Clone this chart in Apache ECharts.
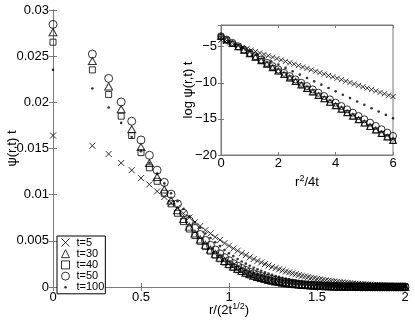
<!DOCTYPE html>
<html><head><meta charset="utf-8">
<script src="https://cdn.jsdelivr.net/npm/echarts@6/dist/echarts.min.js"></script>
<style>html,body{margin:0;padding:0;background:#fff}#c{width:415px;height:325px}</style>
</head><body><div id="c"></div>
<script>
// ---- data ----
const seriesNames = ['t=5', 't=30', 't=40', 't=50', 't=100'];
// log(psi(r,t) t) on the r^2/4t grid 0, 0.05, 0.10, ... 6.00
const logPsi_t5 = [
-4.11,-4.18,-4.24,-4.31,-4.37,-4.44,-4.50,-4.57,-4.63,-4.70,
-4.76,-4.83,-4.89,-4.96,-5.02,-5.09,-5.15,-5.22,-5.28,-5.35,
-5.41,-5.48,-5.54,-5.61,-5.67,-5.74,-5.80,-5.87,-5.93,-6.00,
-6.06,-6.13,-6.19,-6.26,-6.32,-6.39,-6.45,-6.52,-6.58,-6.65,
-6.71,-6.78,-6.84,-6.91,-6.97,-7.04,-7.10,-7.17,-7.23,-7.30,
-7.36,-7.43,-7.49,-7.56,-7.62,-7.69,-7.75,-7.82,-7.88,-7.95,
-8.01,-8.08,-8.14,-8.21,-8.27,-8.34,-8.40,-8.47,-8.53,-8.60,
-8.66,-8.73,-8.79,-8.86,-8.92,-8.99,-9.05,-9.12,-9.18,-9.25,
-9.31,-9.38,-9.44,-9.51,-9.57,-9.64,-9.70,-9.77,-9.83,-9.90,
-9.96,-10.03,-10.09,-10.16,-10.22,-10.29,-10.35,-10.42,-10.48,-10.55,
-10.61,-10.68,-10.74,-10.81,-10.87,-10.94,-11.00,-11.07,-11.13,-11.20,
-11.26,-11.33,-11.39,-11.46,-11.52,-11.59,-11.65,-11.72,-11.78,-11.85,
-11.91];
const logPsi_t30 = [
-3.59,-3.71,-3.83,-3.95,-4.07,-4.19,-4.31,-4.43,-4.55,-4.67,
-4.79,-4.91,-5.03,-5.15,-5.27,-5.39,-5.51,-5.63,-5.75,-5.87,
-5.99,-6.11,-6.23,-6.35,-6.47,-6.59,-6.71,-6.83,-6.95,-7.07,
-7.19,-7.31,-7.43,-7.55,-7.67,-7.79,-7.91,-8.03,-8.15,-8.27,
-8.39,-8.51,-8.63,-8.75,-8.87,-8.99,-9.11,-9.23,-9.35,-9.47,
-9.59,-9.71,-9.83,-9.95,-10.07,-10.19,-10.31,-10.43,-10.55,-10.67,
-10.79,-10.91,-11.03,-11.15,-11.27,-11.39,-11.51,-11.63,-11.75,-11.87,
-11.99,-12.11,-12.23,-12.35,-12.47,-12.59,-12.71,-12.83,-12.95,-13.07,
-13.19,-13.31,-13.43,-13.55,-13.67,-13.79,-13.91,-14.03,-14.15,-14.27,
-14.39,-14.51,-14.63,-14.75,-14.87,-14.99,-15.11,-15.23,-15.35,-15.47,
-15.59,-15.71,-15.83,-15.95,-16.07,-16.19,-16.31,-16.43,-16.55,-16.67,
-16.79,-16.91,-17.03,-17.15,-17.27,-17.39,-17.51,-17.63,-17.75,-17.87,
-17.99];
const logPsi_t40 = [
-3.63,-3.75,-3.87,-3.99,-4.11,-4.23,-4.35,-4.47,-4.59,-4.71,
-4.83,-4.95,-5.07,-5.19,-5.31,-5.43,-5.55,-5.67,-5.79,-5.91,
-6.03,-6.15,-6.27,-6.39,-6.51,-6.63,-6.75,-6.87,-6.99,-7.11,
-7.23,-7.35,-7.47,-7.59,-7.71,-7.83,-7.95,-8.07,-8.19,-8.31,
-8.43,-8.55,-8.67,-8.79,-8.91,-9.03,-9.15,-9.27,-9.39,-9.51,
-9.63,-9.75,-9.87,-9.99,-10.11,-10.23,-10.35,-10.47,-10.59,-10.71,
-10.83,-10.95,-11.07,-11.19,-11.31,-11.43,-11.55,-11.67,-11.79,-11.91,
-12.03,-12.15,-12.27,-12.39,-12.51,-12.63,-12.75,-12.87,-12.99,-13.11,
-13.23,-13.35,-13.47,-13.59,-13.71,-13.83,-13.95,-14.07,-14.19,-14.31,
-14.43,-14.55,-14.67,-14.79,-14.91,-15.03,-15.15,-15.27,-15.39,-15.51,
-15.63,-15.75,-15.87,-15.99,-16.11,-16.23,-16.35,-16.47,-16.59,-16.71,
-16.83,-16.95,-17.07,-17.19,-17.31,-17.43,-17.55,-17.67,-17.79,-17.91,
-18.03];
const logPsi_t50 = [
-3.56,-3.68,-3.79,-3.91,-4.02,-4.14,-4.25,-4.37,-4.48,-4.60,
-4.71,-4.83,-4.94,-5.06,-5.17,-5.29,-5.40,-5.52,-5.63,-5.75,
-5.86,-5.98,-6.09,-6.21,-6.32,-6.44,-6.55,-6.67,-6.78,-6.90,
-7.01,-7.13,-7.24,-7.36,-7.47,-7.59,-7.70,-7.82,-7.93,-8.05,
-8.16,-8.28,-8.39,-8.51,-8.62,-8.74,-8.85,-8.97,-9.08,-9.20,
-9.31,-9.43,-9.54,-9.66,-9.77,-9.89,-10.00,-10.12,-10.23,-10.35,
-10.46,-10.58,-10.69,-10.81,-10.92,-11.04,-11.15,-11.27,-11.38,-11.50,
-11.61,-11.73,-11.84,-11.96,-12.07,-12.19,-12.30,-12.42,-12.53,-12.65,
-12.76,-12.88,-12.99,-13.11,-13.22,-13.34,-13.45,-13.57,-13.68,-13.80,
-13.91,-14.03,-14.14,-14.26,-14.37,-14.49,-14.60,-14.72,-14.83,-14.95,
-15.06,-15.18,-15.29,-15.41,-15.52,-15.64,-15.75,-15.87,-15.98,-16.10,
-16.21,-16.33,-16.44,-16.56,-16.67,-16.79,-16.90,-17.02,-17.13,-17.25,
-17.36];
const logPsi_t100 = [
-3.75,-3.84,-3.94,-4.03,-4.12,-4.22,-4.31,-4.40,-4.49,-4.59,
-4.68,-4.77,-4.87,-4.96,-5.05,-5.15,-5.24,-5.33,-5.42,-5.52,
-5.61,-5.70,-5.80,-5.89,-5.98,-6.08,-6.17,-6.26,-6.35,-6.45,
-6.54,-6.63,-6.73,-6.82,-6.91,-7.01,-7.10,-7.19,-7.28,-7.38,
-7.47,-7.56,-7.66,-7.75,-7.84,-7.94,-8.03,-8.12,-8.21,-8.31,
-8.40,-8.49,-8.59,-8.68,-8.77,-8.87,-8.96,-9.05,-9.14,-9.24,
-9.33,-9.42,-9.52,-9.61,-9.70,-9.80,-9.89,-9.98,-10.07,-10.17,
-10.26,-10.35,-10.45,-10.54,-10.63,-10.73,-10.82,-10.91,-11.00,-11.10,
-11.19,-11.28,-11.38,-11.47,-11.56,-11.66,-11.75,-11.84,-11.93,-12.03,
-12.12,-12.21,-12.31,-12.40,-12.49,-12.59,-12.68,-12.77,-12.86,-12.96,
-13.05,-13.14,-13.24,-13.33,-13.42,-13.52,-13.61,-13.70,-13.79,-13.89,
-13.98,-14.07,-14.17,-14.26,-14.35,-14.45,-14.54,-14.63,-14.72,-14.82,
-14.91];
const gridStep = 0.05;          // spacing of r^2/4t grid
const insetEvery = [3, 4, 4, 4, 5]; // inset shows every n-th point

// ---- build ----
const logData = [logPsi_t5, logPsi_t30, logPsi_t40, logPsi_t50, logPsi_t100];
const uGrid = logPsi_t5.map((_, k) => Math.round(k * gridStep * 100) / 100);
const FONT = "'Liberation Sans', Arial, Helvetica, sans-serif";
const GRAY = '#7a7a7a';
const hollow = { color: 'transparent', borderColor: '#000', borderWidth: 1 };
const CROSS = 'path://M0,0L10,10M10,0L0,10';
const styles = [
  { symbol: CROSS, symbolSize: 6, itemStyle: hollow },
  { symbol: 'triangle', symbolSize: [8, 7], itemStyle: hollow },
  { symbol: 'rect', symbolSize: 6, itemStyle: hollow },
  { symbol: 'circle', symbolSize: 8, itemStyle: hollow },
  { symbol: 'circle', symbolSize: 2.6, itemStyle: { color: '#000' } }
];
const insetSizes = [5, [7, 6], 5, 7, 2.6];
const legendIcons = [CROSS, 'triangle', 'rect', 'circle',
  'path://M0,0M10,10M3.4,5a1.6,1.6 0 1,0 3.2,0a1.6,1.6 0 1,0 -3.2,0Z'];

const series = [];
logData.forEach((arr, i) => {
  const mainPts = [];
  arr.forEach((v, k) => { if (uGrid[k] <= 4 + 1e-9) mainPts.push([Math.sqrt(uGrid[k]), Math.exp(v)]); });
  series.push(Object.assign({
    type: 'scatter', name: seriesNames[i], xAxisIndex: 0, yAxisIndex: 0,
    data: mainPts, z: 3, silent: true
  }, styles[i]));
});
logData.forEach((arr, i) => {
  const insetPts = [];
  arr.forEach((v, k) => { if (k % insetEvery[i] === 0) insetPts.push([uGrid[k], v]); });
  series.push(Object.assign({
    type: 'scatter', name: seriesNames[i], xAxisIndex: 2, yAxisIndex: 2,
    data: insetPts, z: 6, silent: true
  }, styles[i], { symbolSize: insetSizes[i] }));
});

const tick = (len) => ({ show: true, inside: true, length: len, lineStyle: { color: GRAY, width: 1 } });
const line = { show: true, lineStyle: { color: GRAY, width: 1 } };
const lab = (m) => ({ color: '#000', fontSize: 13, fontFamily: FONT, margin: m });
const minus = (v) => String(v).replace('-', '\u2212');
const richSup = { rich: { a: { fontSize: 13, lineHeight: 16, color: '#000', fontFamily: FONT },
                          s: { fontSize: 9, verticalAlign: 'top', color: '#000', fontFamily: FONT } } };

const option = {
  animation: false,
  backgroundColor: '#fff',
  textStyle: { fontFamily: FONT },
  grid: [
    { left: 53, top: 10, width: 352, height: 277, show: false, containLabel: false, outerBoundsMode: 'none' },
    { left: 221, top: 25, width: 172, height: 130, show: true, backgroundColor: '#fff', borderColor: GRAY, borderWidth: 1, z: 4,
      containLabel: false, outerBoundsMode: 'none' }
  ],
  xAxis: [
    { type: 'value', gridIndex: 0, min: 0, max: 2, interval: 0.5, position: 'bottom',
      axisLine: line, axisTick: tick(4), splitLine: { show: false }, axisLabel: lab(4),
      name: '{a|r/(2t}{s|1/2}{a|)}', nameLocation: 'middle', nameGap: 15, nameMoveOverlap: false, nameTextStyle: richSup },
    { type: 'value', gridIndex: 0, min: 0, max: 2, interval: 0.5, position: 'top',
      axisLine: line, axisTick: tick(4), splitLine: { show: false }, axisLabel: { show: false } },
    { type: 'value', gridIndex: 1, min: 0, max: 6, interval: 2, position: 'bottom', z: 5,
      axisLine: line, axisTick: tick(3), splitLine: { show: false }, axisLabel: lab(2),
      name: '{a|r}{s|2}{a|/4t}', nameLocation: 'middle', nameGap: 19, nameMoveOverlap: false, nameTextStyle: richSup },
    { type: 'value', gridIndex: 1, min: 0, max: 6, interval: 2, position: 'top', z: 5,
      axisLine: line, axisTick: tick(3), splitLine: { show: false }, axisLabel: { show: false } }
  ],
  yAxis: [
    { type: 'value', gridIndex: 0, min: 0, max: 0.03, interval: 0.005, position: 'left',
      axisLine: line, axisTick: tick(4), splitLine: { show: false }, axisLabel: lab(4),
      name: '\u03c8(r,t) t', nameLocation: 'middle', nameGap: 34, nameRotate: 90, nameMoveOverlap: false,
      nameTextStyle: { color: '#000', fontSize: 13, fontFamily: FONT } },
    { type: 'value', gridIndex: 0, min: 0, max: 0.03, interval: 0.005, position: 'right',
      axisLine: line, axisTick: tick(4), splitLine: { show: false }, axisLabel: { show: false } },
    { type: 'value', gridIndex: 1, min: -20, max: -2, interval: 5, position: 'left', z: 5,
      axisLine: line, axisTick: tick(3), splitLine: { show: false },
      axisLabel: Object.assign(lab(4), { showMaxLabel: false, formatter: (v) => (v % 5 === 0 ? minus(v) : '') }),
      name: 'log \u03c8(r,t) t', nameLocation: 'middle', nameGap: 26, nameRotate: 90, nameMoveOverlap: false,
      nameTextStyle: { color: '#000', fontSize: 13, fontFamily: FONT } },
    { type: 'value', gridIndex: 1, min: -20, max: -2, interval: 5, position: 'right', z: 5,
      axisLine: line, axisTick: tick(3), splitLine: { show: false }, axisLabel: { show: false } }
  ],
  legend: {
    orient: 'vertical', left: 57, top: 236, selectedMode: false, z: 8,
    data: seriesNames.map((n, i) => ({
      name: n, icon: legendIcons[i],
      itemStyle: i === 4 ? { color: '#000', borderWidth: 0 }
                         : { color: 'transparent', borderColor: '#000', borderWidth: 1 }
    })),
    itemWidth: 8, itemHeight: 8, itemGap: 0.2,
    padding: [1, 1, 1, 4],
    borderColor: '#000', borderWidth: 1, backgroundColor: '#fff',
    textStyle: { color: '#000', fontSize: 11, lineHeight: 9, fontFamily: FONT, padding: [0, 0, 0, 2] }
  },
  series: series
};
const chart = echarts.init(document.getElementById('c'), null, { renderer: 'canvas' });
chart.setOption(option);
</script></body></html>
